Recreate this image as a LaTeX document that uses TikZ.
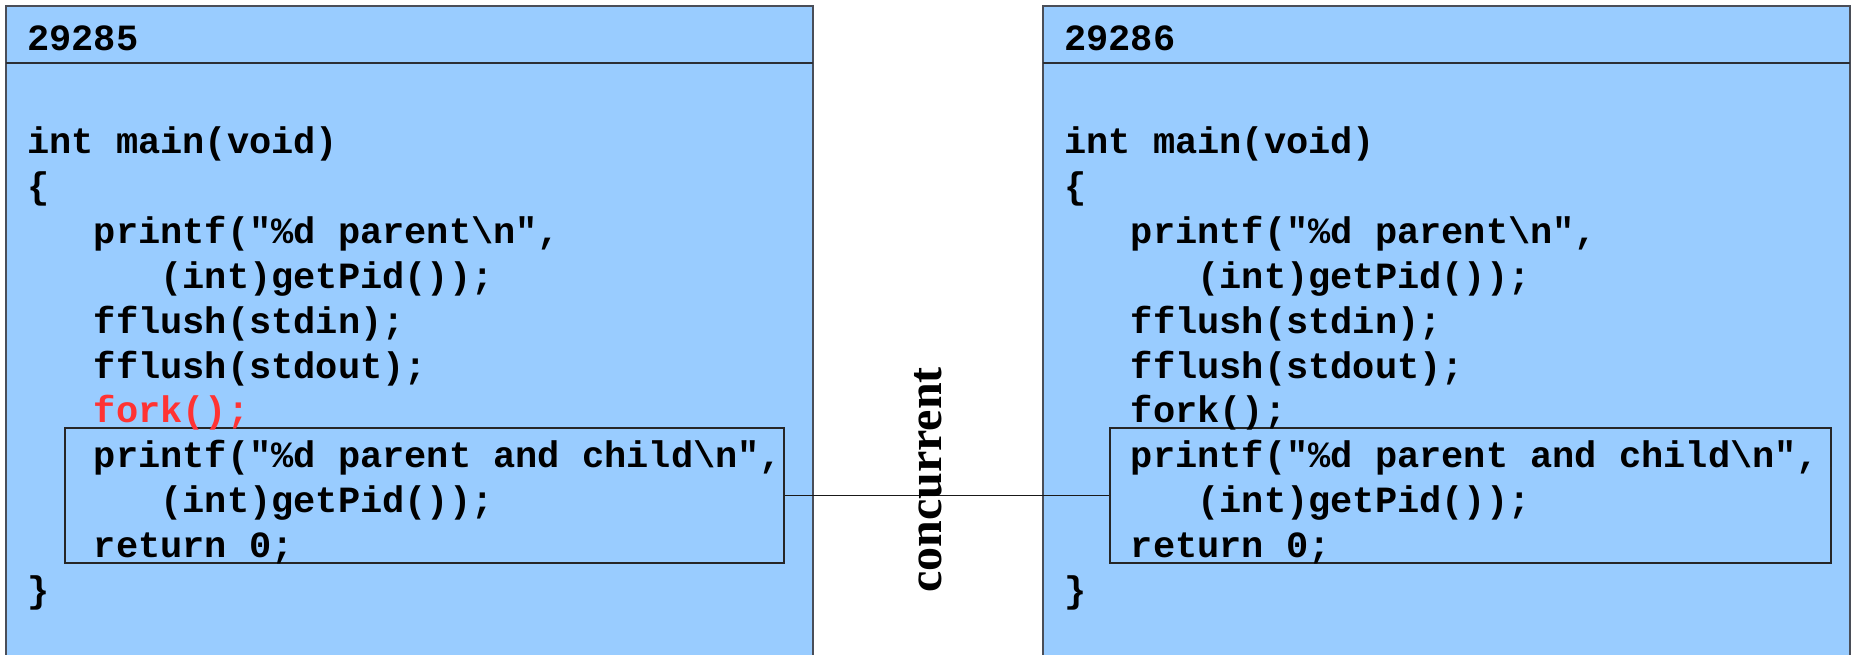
\documentclass[tikz,border=0pt]{standalone}
\usepackage{fontspec}
\newfontfamily\codefont{Liberation Mono}
\newfontfamily\labelfont{Liberation Serif}
\definecolor{panelblue}{HTML}{99CCFF}
\definecolor{forkred}{HTML}{FF3333}
\definecolor{edgegray}{HTML}{4A4E58}
\tikzset{
  code/.style={anchor=base west, inner sep=0pt, font=\codefont\bfseries\fontsize{37}{44.8}\selectfont},
  panel/.style={draw=edgegray, line width=1.5pt, fill=panelblue},
  runbox/.style={draw=black!85, line width=1.4pt, inner sep=0pt, minimum height=135pt},
  link/.style={line width=1.3pt, draw=black!90},
  vlabel/.style={inner sep=0pt, rotate=90, font=\labelfont\bfseries\fontsize{48}{50}\selectfont}
}
\begin{document}
\begin{tikzpicture}[x=1pt,y=-1pt]
\useasboundingbox (0,0) rectangle (1853,655);
\fill[white] (0,0) rectangle (1853,655);
\foreach \p/\ox/\pid/\fc/\bc/\bw in {L/0/29285/forkred/424.5/719, R/1037/29286/black/1470.5/721} {
  \draw[panel] (6+\ox,6) rectangle (813+\ox,664);
  \draw[edgegray!60!black, line width=1.3pt] (6+\ox,63) -- (813+\ox,63);
  \node[runbox, minimum width=\bw pt] (\p-box) at (\bc,495.5) {};
  \node[code] (\p-pid) at (27+\ox,51) {\pid};
  \node[code] (\p-l0) at (27+\ox,154) {int main(void)};
  \node[code] (\p-l1) at (27+\ox,198.8) {\{};
  \node[code] (\p-l2) at (93.6+\ox,243.6) {printf("\%d parent\textbackslash n",};
  \node[code] (\p-l3) at (160.2+\ox,288.4) {(int)getPid());};
  \node[code] (\p-l4) at (93.6+\ox,333.2) {fflush(stdin);};
  \node[code] (\p-l5) at (93.6+\ox,378) {fflush(stdout);};
  \node[code, text=\fc] (\p-l6) at (93.6+\ox,422.8) {fork();};
  \node[code] (\p-l7) at (93.6+\ox,467.6) {printf("\%d parent and child\textbackslash n",};
  \node[code] (\p-l8) at (160.2+\ox,512.4) {(int)getPid());};
  \node[code] (\p-l9) at (93.6+\ox,557.2) {return 0;};
  \node[code] (\p-l10) at (27+\ox,602) {\}};
}
\draw[link] (L-box.east) -- (R-box.west);
\node[vlabel] (conc) at (928,480) {concurrent};
\end{tikzpicture}
\end{document}
